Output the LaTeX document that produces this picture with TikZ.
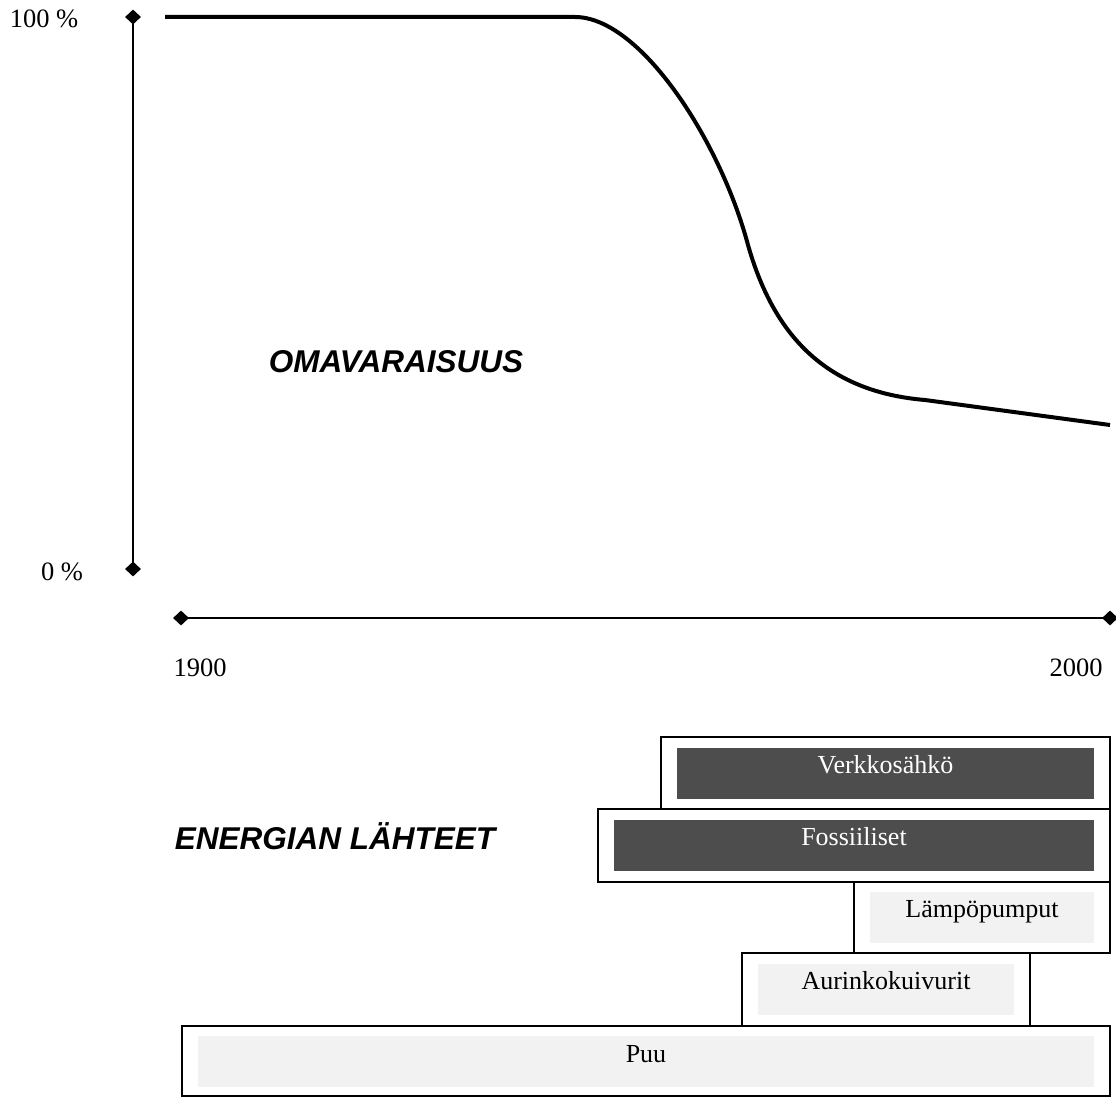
\documentclass[tikz,border=0pt]{standalone}
\usepackage{fontspec}
\setmainfont{Liberation Serif}
\newfontfamily\headfont{Liberation Sans}
\usetikzlibrary{shapes.geometric}
\definecolor{darkfill}{HTML}{4D4D4D}
\definecolor{lightfill}{HTML}{F2F2F2}
\tikzset{
  axisline/.style={line width=2pt},
  tipmark/.style={diamond, fill=black, inner sep=0pt, minimum width=16pt, minimum height=15pt},
  curveline/.style={line width=4pt},
  outerbox/.style={draw=black, line width=2pt, fill=white, rectangle, inner sep=0pt},
  darkbar/.style={fill=darkfill, rectangle, inner sep=0pt},
  lightbar/.style={fill=lightfill, rectangle, inner sep=0pt},
  darklabel/.style={anchor=base, text=white, font=\fontsize{26}{30}\selectfont},
  lightlabel/.style={anchor=base, text=black, font=\fontsize{26}{30}\selectfont},
  ticklabel/.style={anchor=base, font=\fontsize{26.5}{30}\selectfont},
  heading/.style={anchor=base, font=\headfont\bfseries\itshape\fontsize{31.5}{36}\selectfont}
}
\begin{document}
\begin{tikzpicture}[x=1pt, y=-1pt]
\useasboundingbox (0,0) rectangle (1116,1097);

% axes with diamond end markers
\node[tipmark] (ytop) at (133,17) {};
\node[tipmark] (ybot) at (133,569) {};
\node[tipmark] (xleft) at (181,618) {};
\node[tipmark] (xright) at (1110,618) {};
\draw[axisline] (ytop.center) -- (ybot.center);
\draw[axisline] (xleft.center) -- (xright.center);

\node[ticklabel] (lab100) at (44,28) {100 \%};
\node[ticklabel] (lab0) at (62,580) {0 \%};
\node[ticklabel] (lab1900) at (200,676) {1900};
\node[ticklabel] (lab2000) at (1076,676) {2000};

% self-sufficiency curve
\coordinate (cstart) at (165,17);
\coordinate (cknee) at (575,17);
\coordinate (cmid) at (748,245);
\coordinate (cflat) at (925,400);
\coordinate (cend) at (1110,425);
\draw[curveline] (cstart) -- (cknee)
  .. controls (640,17) and (720,140) .. (cmid)
  .. controls (775,340) and (830,392) .. (cflat)
  -- (cend);

\node[heading] (omav) at (396,372) {OMAVARAISUUS};
\node[heading] (lahteet) at (335,849) {ENERGIAN LÄHTEET};

% energy source bars
\node[outerbox, minimum width=449pt, minimum height=72pt] (verkkoOut) at (885.5,773) {};
\node[darkbar, minimum width=417pt, minimum height=51pt] (verkkoIn) at (885.5,773.5) {};
\node[darklabel] (verkkoTxt) at (885.5,773) {Verkkosähkö};

\node[outerbox, minimum width=512pt, minimum height=73pt] (fossOut) at (854,845.5) {};
\node[darkbar, minimum width=480pt, minimum height=51pt] (fossIn) at (854,845.5) {};
\node[darklabel] (fossTxt) at (854,845) {Fossiiliset};

\node[outerbox, minimum width=256pt, minimum height=71pt] (lampoOut) at (982,917.5) {};
\node[lightbar, minimum width=224pt, minimum height=51pt] (lampoIn) at (982,917.5) {};
\node[lightlabel] (lampoTxt) at (982,917) {Lämpöpumput};

\node[outerbox, minimum width=288pt, minimum height=73pt] (aurOut) at (886,989.5) {};
\node[lightbar, minimum width=256pt, minimum height=51pt] (aurIn) at (886,989.5) {};
\node[lightlabel] (aurTxt) at (886,989) {Aurinkokuivurit};

\node[outerbox, minimum width=928pt, minimum height=70pt] (puuOut) at (646,1061) {};
\node[lightbar, minimum width=896pt, minimum height=51pt] (puuIn) at (646,1061.5) {};
\node[lightlabel] (puuTxt) at (646,1062) {Puu};
\end{tikzpicture}
\end{document}
